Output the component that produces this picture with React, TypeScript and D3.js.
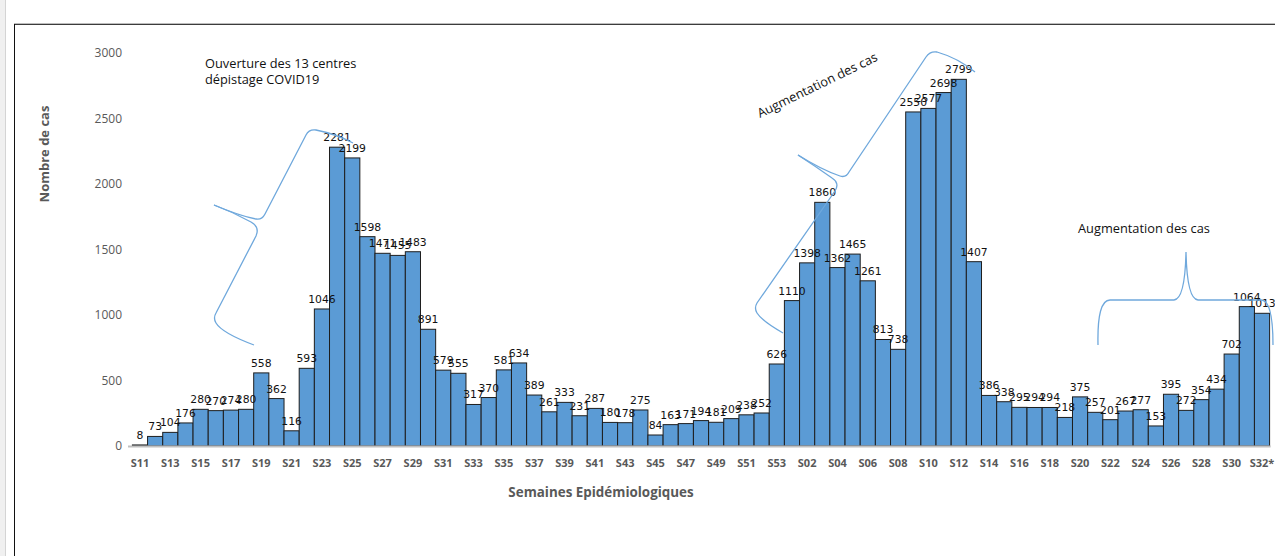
import * as d3 from "d3";
import React, { useEffect, useRef } from "react";

// epidemiological weeks: S11-S53 (2020) then S01-S32 (2021)
const weeks: string[] = [
  "S11", "S12", "S13", "S14", "S15", "S16", "S17", "S18", "S19", "S20",
  "S21", "S22", "S23", "S24", "S25", "S26", "S27", "S28", "S29", "S30",
  "S31", "S32", "S33", "S34", "S35", "S36", "S37", "S38", "S39", "S40",
  "S41", "S42", "S43", "S44", "S45", "S46", "S47", "S48", "S49", "S50",
  "S51", "S52", "S53",
  "S01", "S02", "S03", "S04", "S05", "S06", "S07", "S08", "S09", "S10",
  "S11", "S12", "S13", "S14", "S15", "S16", "S17", "S18", "S19", "S20",
  "S21", "S22", "S23", "S24", "S25", "S26", "S27", "S28", "S29", "S30",
  "S31", "S32*",
];

const cases: number[] = [
  8, 73, 104, 176, 280, 270, 274, 280, 558, 362,
  116, 593, 1046, 2281, 2199, 1598, 1471, 1455, 1483, 891,
  579, 555, 317, 370, 581, 634, 389, 261, 333, 231,
  287, 180, 178, 275, 84, 163, 171, 194, 181, 209,
  238, 252, 626,
  1110, 1398, 1860, 1362, 1465, 1261, 813, 738, 2550, 2577,
  2698, 2799, 1407, 386, 338, 295, 294, 294, 218, 375,
  257, 201, 267, 277, 153, 395, 272, 354, 434, 702,
  1064, 1013,
];

const yTicks: number[] = [0, 500, 1000, 1500, 2000, 2500, 3000];

const CONFIG = {
  width: 1275,
  height: 556,
  left: 132.4,
  right: 1269.6,
  top: 53,
  bottom: 446,
  barFill: "#5B9BD5",
  axisGray: "#595959",
  braceColor: "#6FA8DC",
};

const App: React.FC = () => {
  const svgRef = useRef<SVGSVGElement>(null);

  useEffect(() => {
    const svg = d3.select(svgRef.current);
    svg.selectAll("*").remove();

    const x = d3
      .scaleBand<number>()
      .domain(d3.range(weeks.length))
      .range([CONFIG.left, CONFIG.right])
      .padding(0);
    const y = d3
      .scaleLinear()
      .domain([0, 3000])
      .range([CONFIG.bottom, CONFIG.top]);

    // frame
    svg.append("rect").attr("x", 0).attr("y", 0).attr("width", 6).attr("height", CONFIG.height).attr("fill", "#f0f0f0");
    svg.append("line").attr("x1", 5.5).attr("x2", 5.5).attr("y1", 0).attr("y2", CONFIG.height).attr("stroke", "#d4d4d4");
    svg.append("line").attr("x1", 14).attr("x2", CONFIG.width).attr("y1", 23.5).attr("y2", 23.5).attr("stroke", "#bdbdbd");
    svg.append("line").attr("x1", 14).attr("x2", CONFIG.width).attr("y1", 24.5).attr("y2", 24.5).attr("stroke", "#3c3c3c");
    svg.append("line").attr("x1", 14.5).attr("x2", 14.5).attr("y1", 24).attr("y2", CONFIG.height).attr("stroke", "#111");

    // y tick labels
    svg
      .append("g")
      .selectAll("text")
      .data(yTicks)
      .enter()
      .append("text")
      .attr("x", 122)
      .attr("y", (d) => y(d))
      .attr("dy", "0.35em")
      .attr("text-anchor", "end")
      .attr("font-family", "Open Sans")
      .attr("font-size", 12)
      .attr("fill", CONFIG.axisGray)
      .text((d) => d);

    // bars
    svg
      .append("g")
      .selectAll("rect")
      .data(cases)
      .enter()
      .append("rect")
      .attr("x", (_, i) => x(i)!)
      .attr("y", (d) => y(d))
      .attr("width", x.bandwidth())
      .attr("height", (d) => CONFIG.bottom - y(d))
      .attr("fill", CONFIG.barFill)
      .attr("stroke", "#1e1e1e")
      .attr("stroke-width", 1);

    // baseline
    svg
      .append("line")
      .attr("x1", 128)
      .attr("x2", CONFIG.right + 1)
      .attr("y1", CONFIG.bottom + 0.5)
      .attr("y2", CONFIG.bottom + 0.5)
      .attr("stroke", "#bfbfbf")
      .attr("stroke-width", 2);

    // data labels
    svg
      .append("g")
      .selectAll("text")
      .data(cases)
      .enter()
      .append("text")
      .attr("x", (_, i) => x(i)! + x.bandwidth() / 2)
      .attr("y", (d) => y(d) - 6)
      .attr("text-anchor", "middle")
      .attr("font-family", "DejaVu Sans")
      .attr("font-size", 10.8)
      .attr("fill", "#111")
      .text((d) => d);

    // x tick labels (every other week)
    svg
      .append("g")
      .selectAll("text")
      .data(weeks)
      .enter()
      .filter((_, i) => i % 2 === 0)
      .append("text")
      .attr("x", (_, i) => x(i * 2)! + x.bandwidth() / 2)
      .attr("y", 463)
      .attr("dy", "0.35em")
      .attr("text-anchor", "middle")
      .attr("font-family", "Open Sans")
      .attr("font-weight", "bold")
      .attr("font-size", 11)
      .attr("fill", CONFIG.axisGray)
      .text((d) => d);

    // axis titles
    svg
      .append("text")
      .attr("x", 601)
      .attr("y", 492)
      .attr("dy", "0.35em")
      .attr("text-anchor", "middle")
      .attr("font-family", "Open Sans")
      .attr("font-weight", "bold")
      .attr("font-size", 13.4)
      .attr("fill", CONFIG.axisGray)
      .text("Semaines Epidémiologiques");

    svg
      .append("text")
      .attr("transform", "translate(44,154) rotate(-90)")
      .attr("dy", "0.35em")
      .attr("text-anchor", "middle")
      .attr("font-family", "Open Sans")
      .attr("font-weight", "bold")
      .attr("font-size", 13)
      .attr("fill", CONFIG.axisGray)
      .text("Nombre de cas");

    // annotations
    const note = (tx: number, ty: number, lines: string[], rot = 0) => {
      const t = svg
        .append("text")
        .attr("transform", `translate(${tx},${ty}) rotate(${rot})`)
        .attr("font-family", "Open Sans")
        .attr("font-size", 12.8)
        .attr("fill", "#111");
      lines.forEach((l, k) => {
        t.append("tspan").attr("x", 0).attr("y", k * 16).text(l);
      });
    };
    note(205, 68, ["Ouverture des 13 centres", "dépistage COVID19"]);
    note(760, 118, ["Augmentation des cas"], -26);
    note(1078, 233, ["Augmentation des cas"]);

    const braces = [
      "M254,345 Q222,333 216,323 Q213,318 216,313 L256,236 Q260,227 251,222 Q233,212 214,205",
      "M214,205 Q240,216 256,219 Q262,220 265,214 L306,135 Q309,129 316,130 Q336,134 353,143",
      "M783,333 Q762,321 757,313 Q754,308 757,303 L835,191 Q840,183 832,178 Q815,166 798,155",
      "M798,155 Q822,170 840,176 Q846,178 849,172 L926,57 Q930,51 937,52 Q958,58 975,72",
      "M1098,345 Q1097,300 1110,300 L1174,300 Q1185,299 1186,252 Q1187,299 1198,300 L1261,300 Q1273,300 1273,345",
    ];
    svg
      .append("g")
      .selectAll("path")
      .data(braces)
      .enter()
      .append("path")
      .attr("d", (d) => d)
      .attr("fill", "none")
      .attr("stroke", CONFIG.braceColor)
      .attr("stroke-width", 1.3);
  }, []);

  return (
    <svg
      ref={svgRef}
      width={CONFIG.width}
      height={CONFIG.height}
      style={{ position: "absolute", left: 0, top: 0, background: "#fff" }}
    />
  );
};

export default App;
